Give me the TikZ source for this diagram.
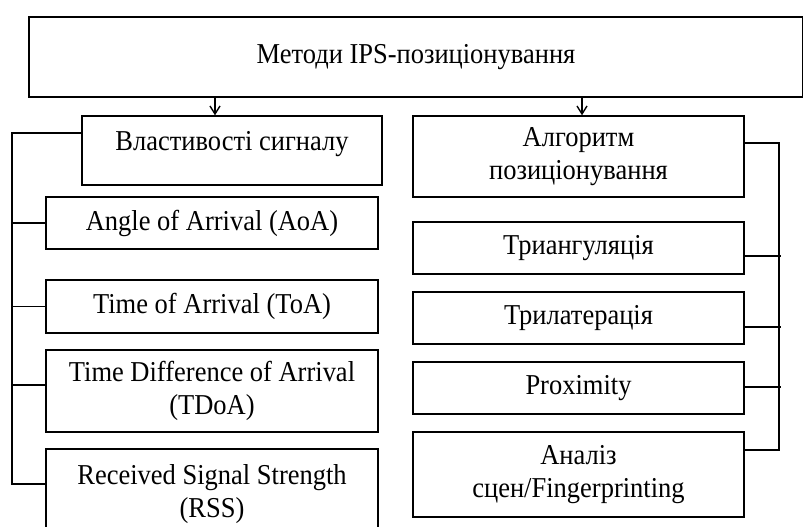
\documentclass[tikz,border=0pt]{standalone}
\usepackage{fontspec}
\setmainfont{Liberation Serif}[FakeStretch=0.92]
\usetikzlibrary{arrows.meta,calc}
\begin{document}
\begin{tikzpicture}[x=0.5pt,y=-0.5pt,
  box/.style={draw,line width=0.7pt,inner sep=0pt,align=center,
    font=\fontsize{14.4pt}{16.5pt}\selectfont},
  conn/.style={line width=0.7pt},
  arr/.style={line width=0.7pt,-{Straight Barb[length=4pt,width=5pt]}}]
\useasboundingbox (0,0) rectangle (803,526);
% top
\node[box,minimum width=387pt,minimum height=40pt] (top) at (416,57) {Методи IPS-позиціонування};
% left column
\node[box,minimum width=150pt,text height=17pt,text depth=17.5pt] (prop) at (232,150.5) {Властивості сигналу};
\node[box,minimum width=166pt,minimum height=26pt] (aoa) at (212,223) {Angle of Arrival (AoA)};
\node[box,minimum width=166pt,minimum height=26.5pt] (toa) at (212,306.5) {Time of Arrival (ToA)};
\node[box,minimum width=166pt,minimum height=41pt] (tdoa) at (212,391) {Time Difference of Arrival\\(TDoA)};
\node[box,minimum width=166pt,minimum height=45.5pt] (rss) at (212,494.5) {Received Signal Strength\\(RSS)};
% right column
\node[box,minimum width=165.5pt,minimum height=40.5pt] (alg) at (578.5,156.5) {Алгоритм\\позиціонування};
\node[box,minimum width=165.5pt,minimum height=26pt] (tri) at (578.5,248) {Триангуляція};
\node[box,minimum width=165.5pt,minimum height=26pt] (tril) at (578.5,318) {Трилатерація};
\node[box,minimum width=165.5pt,minimum height=26pt] (prox) at (578.5,388) {Proximity};
\node[box,minimum width=165.5pt,minimum height=42.5pt] (anal) at (578.5,474.5) {Аналіз\\сцен/Fingerprinting};
% arrows
\coordinate (la) at (215,0);
\coordinate (ra) at (582,0);
\draw[arr] (top.south -| la) -- (prop.north -| la);
\draw[arr] (top.south -| ra) -- (alg.north -| ra);
% left bus
\coordinate (l1) at (12,133);
\coordinate (l5) at (12,484);
\draw[conn] (prop.west |- l1) -- (l1) -- (l5) -- (rss.west |- l5);
\draw[conn] (aoa.west) -- (aoa.west -| l1);
\draw[conn] (toa.west) -- (toa.west -| l1);
\coordinate (l4) at (12,385);
\draw[conn] (tdoa.west |- l4) -- (l4);
% right bus
\coordinate (r1) at (779,143);
\coordinate (r2) at (781,256);
\coordinate (r3) at (781,327);
\coordinate (r4) at (781,387);
\coordinate (r5) at (779,450);
\draw[conn] (alg.east |- r1) -- (r1) -- (r5) -- (anal.east |- r5);
\draw[conn] (tri.east |- r2) -- (r2);
\draw[conn] (tril.east |- r3) -- (r3);
\draw[conn] (prox.east |- r4) -- (r4);
\end{tikzpicture}
\end{document}
